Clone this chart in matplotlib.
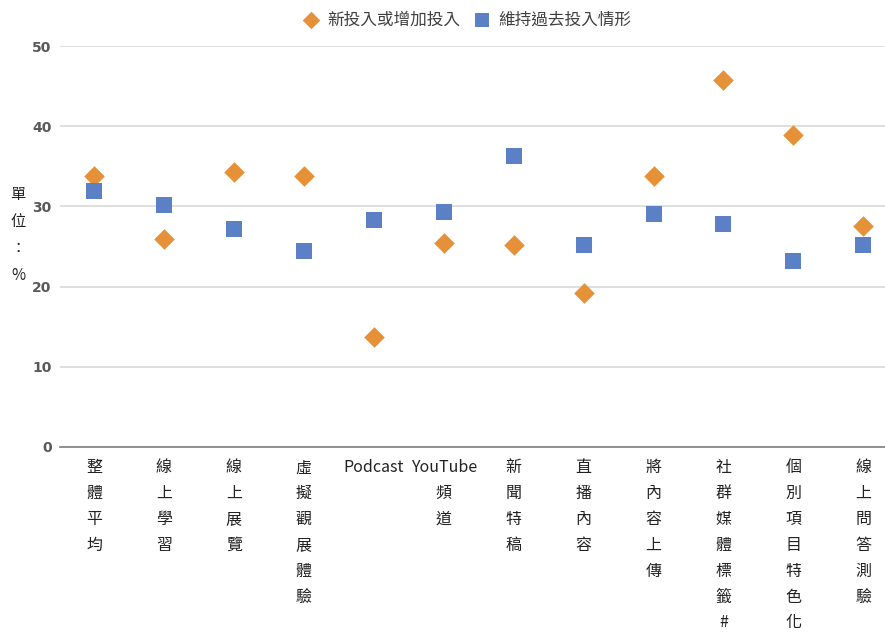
import matplotlib
matplotlib.use("Agg")
import matplotlib.pyplot as plt
from matplotlib.transforms import blended_transform_factory

plt.rcParams['font.family'] = ['Noto Sans CJK TC', 'DejaVu Sans']

categories = ["整體平均", "線上學習", "線上展覽", "虛擬觀展體驗", "Podcast", "YouTube頻道",
              "新聞特稿", "直播內容", "將內容上傳", "社群媒體標籤#", "個別項目特色化", "線上問答測驗"]
tick_labels = ["整\n體\n平\n均", "線\n上\n學\n習", "線\n上\n展\n覽", "虛\n擬\n觀\n展\n體\n驗",
               "Podcast", "YouTube\n頻\n道", "新\n聞\n特\n稿", "直\n播\n內\n容",
               "將\n內\n容\n上\n傳", "社\n群\n媒\n體\n標\n籤\n#", "個\n別\n項\n目\n特\n色\n化",
               "線\n上\n問\n答\n測\n驗"]
new_invest = [33.8, 25.9, 34.3, 33.8, 13.7, 25.4, 25.2, 19.2, 33.8, 45.8, 38.9, 27.5]
maintain = [31.9, 30.2, 27.2, 24.4, 28.3, 29.3, 36.3, 25.2, 29.1, 27.8, 23.2, 25.2]
series_names = ["新投入或增加投入", "維持過去投入情形"]
yticks = [0, 10, 20, 30, 40, 50]

orange = "#E69138"
blue = "#5B80C6"
gray_text = "#595959"

fig = plt.figure(figsize=(8.85, 6.32), dpi=100)
ax = fig.add_axes([60/885, 1-447/632, 1-60/885, (447-46)/632])
x = list(range(len(categories)))

ax.scatter(x, new_invest, marker="D", s=110, color=orange, zorder=3, label=series_names[0], linewidths=0)
ax.scatter(x, maintain, marker="s", s=130, color=blue, zorder=3, label=series_names[1], linewidths=0)

ax.set_xlim(-0.486, 11.31)
ax.set_ylim(0, 50)
ax.set_yticks(yticks)
ax.set_yticklabels([str(v) for v in yticks], fontsize=10, fontweight="bold", color=gray_text,
                   family="DejaVu Sans")
ax.tick_params(axis="y", length=0, pad=6)
ax.tick_params(axis="x", length=0, labelbottom=False)
ax.grid(axis="y", color="#D9D9D9", linewidth=1.2, zorder=0)
for s in ["top", "right", "left"]:
    ax.spines[s].set_visible(False)
ax.spines["bottom"].set_color("#7F7F7F")
ax.spines["bottom"].set_linewidth(1.2)

trans = blended_transform_factory(ax.transData, ax.transAxes)
for xi, lab in zip(x, tick_labels):
    ax.text(xi, -0.031, lab, transform=trans, ha="center", va="top", fontsize=11.5,
            linespacing=1.68, color="#222222", multialignment="center")

fig.text(18/885, 1-235/632, "單\n位\n：\n%", ha="center", va="center", fontsize=11,
         linespacing=1.75, color="#222222")

leg = fig.legend(loc="upper center", bbox_to_anchor=(0.523, 1.005), ncol=2, frameon=False,
                 fontsize=12, handletextpad=0.0, columnspacing=0.3, markerscale=0.85)
for t in leg.get_texts():
    t.set_color("#404040")

fig.savefig("out.png", dpi=100)
